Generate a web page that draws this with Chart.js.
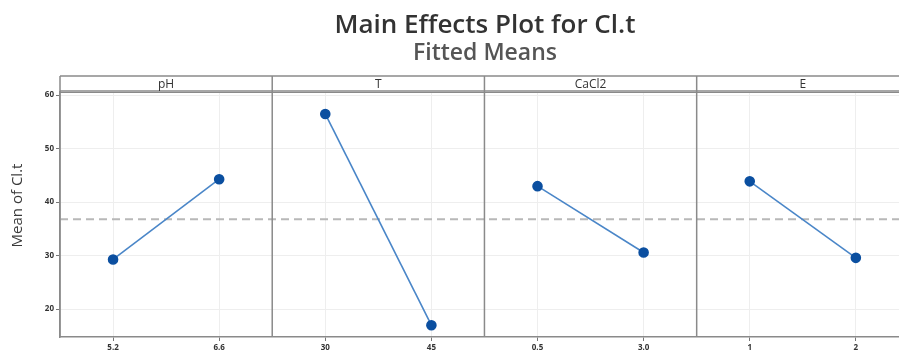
<!DOCTYPE html>
<html>
<head>
<meta charset="utf-8">
<script src="https://cdn.jsdelivr.net/npm/chart.js@4.4.1/dist/chart.umd.min.js"></script>
<style>
  html, body { margin: 0; padding: 0; background: #fff; overflow: hidden; }
  #wrap { position: relative; width: 915px; height: 358px; }
  .ttl { position: absolute; left: 60px; width: 850px; text-align: center; font-family: 'Open Sans', sans-serif; font-weight: 600; line-height: normal; }
  #t1 { top: 5px; font-size: 26px; color: #333; }
  #t2 { top: 35px; font-size: 23px; color: #555; }
</style>
</head>
<body>
<div id="wrap">
  <canvas id="mainEffects"></canvas>
  <div class="ttl" id="t1">Main Effects Plot for Cl.t</div>
  <div class="ttl" id="t2">Fitted Means</div>
</div>
<script>
// Factors (panels), their two levels and fitted means
const factors = ['pH', 'T', 'CaCl2', 'E'];
const levelLabels = [['5.2', '6.6'], ['30', '45'], ['0.5', '3.0'], ['1', '2']];
const fittedMeans = [[29.3, 44.3], [56.5, 17.0], [43.0, 30.6], [43.9, 29.6]];
const grandMean = 36.8;
const yTicks = [20, 30, 40, 50, 60];

const FONT = "'Open Sans', sans-serif";

// each panel takes two x slots: level 0 at 2p, level 1 at 2p+1
const datasets = factors.map((f, p) => ({
  label: f,
  data: fittedMeans[p].map((v, i) => ({ x: 2 * p + i, y: v })),
  borderColor: '#4a86c8',
  borderWidth: 1.6,
  pointBackgroundColor: '#0b4fa0',
  pointBorderColor: '#0b4fa0',
  pointRadius: 4.5,
  order: 1
}));
datasets.push({
  label: 'mean',
  data: [{ x: -0.5, y: grandMean }, { x: 2 * factors.length - 0.5, y: grandMean }],
  borderColor: '#b8b8b8',
  borderWidth: 2,
  borderDash: [8, 5],
  pointRadius: 0,
  order: 2
});

// strip headers, panel separators, y title
const panelPlugin = {
  id: 'panels',
  afterDraw(chart) {
    const { ctx, chartArea, scales } = chart;
    const xs = scales.x;
    const stripH = 16;
    const top = chartArea.top - stripH;
    ctx.save();
    ctx.strokeStyle = '#8a8a8a';
    ctx.lineWidth = 1.5;
    ctx.beginPath();
    ctx.moveTo(chartArea.left, top);
    ctx.lineTo(chartArea.right, top);
    ctx.moveTo(chartArea.left, chartArea.top - 1);
    ctx.lineTo(chartArea.right, chartArea.top - 1);
    ctx.stroke();
    ctx.lineWidth = 1;
    ctx.beginPath();
    ctx.moveTo(chartArea.left, chartArea.top + 0.5);
    ctx.lineTo(chartArea.right, chartArea.top + 0.5);
    ctx.stroke();
    ctx.lineWidth = 1.5;
    for (let p = 0; p <= factors.length; p++) {
      const px = xs.getPixelForValue(2 * p - 0.5);
      ctx.beginPath();
      ctx.moveTo(px, top);
      ctx.lineTo(px, chartArea.bottom);
      ctx.stroke();
    }
    ctx.fillStyle = '#333';
    ctx.font = '12px ' + FONT;
    ctx.textAlign = 'center';
    ctx.textBaseline = 'middle';
    factors.forEach((f, p) => {
      const cx = xs.getPixelForValue(2 * p + 0.5);
      ctx.fillText(f, cx, top + stripH / 2 + 1);
    });
    // y axis title
    ctx.translate(18, (chartArea.top + chartArea.bottom) / 2 - 9);
    ctx.rotate(-Math.PI / 2);
    ctx.font = '15px ' + FONT;
    ctx.fillStyle = '#3a3a3a';
    ctx.fillText('Mean of Cl.t', 0, 0);
    ctx.restore();
  }
};

new Chart(document.getElementById('mainEffects'), {
  type: 'line',
  data: { datasets },
  options: {
    responsive: true,
    maintainAspectRatio: false,
    animation: false,
    layout: { padding: { top: 92, right: 2, left: 0, bottom: 0 } },
    plugins: { legend: { display: false }, tooltip: { enabled: false } },
    scales: {
      x: {
        type: 'linear',
        min: -0.5,
        max: 2 * factors.length - 0.5,
        afterBuildTicks: s => { s.ticks = factors.flatMap((f, p) => [{ value: 2 * p }, { value: 2 * p + 1 }]); },
        afterFit: s => { s.height = 21; },
        ticks: {
          color: '#333',
          font: { family: FONT, size: 8, weight: 'bold' },
          padding: 2,
          maxRotation: 0,
          autoSkip: false,
          callback: v => levelLabels[Math.floor(v / 2)][v % 2]
        },
        grid: { color: '#eeeeee', tickColor: '#777', tickLength: 4, lineWidth: 1 },
        border: { color: '#8a8a8a', width: 1.5 }
      },
      y: {
        min: 14.8,
        max: 60.6,
        afterBuildTicks: s => { s.ticks = yTicks.map(v => ({ value: v })); },
        afterFit: s => { s.width = 60; },
        ticks: { color: '#333', font: { family: FONT, size: 8, weight: 'bold' }, padding: 2 },
        grid: { color: '#eeeeee', tickColor: '#777', tickLength: 4 },
        border: { color: '#8a8a8a', width: 1.5 }
      }
    }
  },
  plugins: [panelPlugin]
});
</script>
</body>
</html>
